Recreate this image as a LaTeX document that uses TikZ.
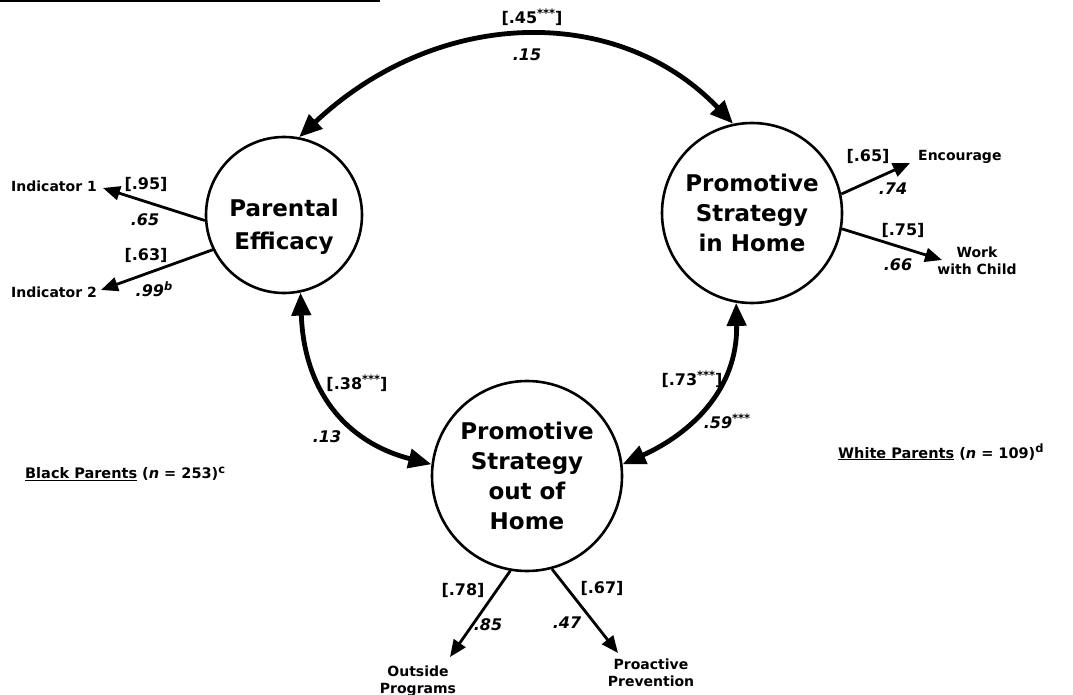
\documentclass[tikz,border=0pt]{standalone}
\usepackage{fontspec}
\setmainfont{DejaVu Sans}
\usetikzlibrary{arrows.meta}
\newcommand{\sups}[1]{\raisebox{0.38em}{\fontsize{11.5}{12}\selectfont #1}}
\begin{document}
\begin{tikzpicture}[x=1pt,y=-1pt,
  lat/.style={circle,draw,line width=2.6pt,inner sep=0pt,align=center,font=\bfseries\fontsize{23}{30}\selectfont},
  lattext/.style={inner sep=0pt,align=center,font=\bfseries\fontsize{23}{33}\selectfont},
  nm/.style={font=\bfseries\fontsize{14}{17}\selectfont,align=center,inner sep=0pt},
  cf/.style={font=\bfseries\fontsize{16}{18}\selectfont,inner sep=0pt},
  ci/.style={font=\bfseries\itshape\fontsize{16}{18}\selectfont,inner sep=0pt},
  thinarr/.style={line width=2.8pt,-{Triangle[length=17pt,width=14pt]}},
  bigarr/.style={line width=4.8pt,{Triangle[length=23pt,width=19pt]}-{Triangle[length=23pt,width=19pt]}},
  grp/.style={font=\bfseries\fontsize{14.5}{16}\selectfont,inner sep=0pt,anchor=west}]
\useasboundingbox (0,0) rectangle (1073,695);
\fill[white] (0,0) rectangle (1073,695);
\draw[line width=2.5pt] (0,1) -- (380,1);

% latent variables
\node[lat,minimum size=156pt] (pe) at (284,215) {};
\node[lattext] (pet) at (284,227) {Parental\\Efficacy};
\node[lat,minimum size=180pt] (ih) at (752,213) {Promotive\\Strategy\\in Home};
\node[lat,minimum size=190pt] (oh) at (527,476) {Promotive\\Strategy\\out of\\Home};

% indicators
\node[nm,anchor=east] (i1) at (97,186) {Indicator 1};
\node[nm,anchor=east] (i2) at (97,292) {Indicator 2};
\node[nm,anchor=west] (enc) at (918,157) {Encourage};
\node[nm] (wc) at (977,261) {Work\\with Child};
\node[nm] (op) at (418,681) {Outside\\Programs};
\node[nm] (pp) at (651,673) {Proactive\\Prevention};

% correlations
\draw[bigarr] (pe.79) .. controls (440,5) and (620,5) .. (ih.102);
\draw[bigarr] (pe.-78) .. controls (304,390) and (345,442) .. (oh.173);
\draw[bigarr] (ih.-100) .. controls (738,390) and (690,434) .. (oh.7);

% loadings
\draw[thinarr] (pe.184) -- ([xshift=6pt,yshift=-2pt]i1.east);
\draw[thinarr] (pe.206) -- ([xshift=4pt,yshift=2pt]i2.east);
\draw[thinarr] (ih.12) -- ([xshift=-8pt,yshift=-6pt]enc.west);
\draw[thinarr] (ih.-10) -- ([xshift=-35pt,yshift=1pt]wc.center);
\draw[thinarr] (oh.-100) -- ([xshift=32pt,yshift=24pt]op.center);
\draw[thinarr] (oh.-75) -- ([xshift=-33pt,yshift=20pt]pp.center);

% coefficient labels
\node[cf] (l45) at (532,17) {[.45\sups{***}]};
\node[ci] (l15) at (527,55) {.15};
\node[cf] (l95) at (146,184) {[.95]};
\node[ci] (l65) at (145,220) {.65};
\node[cf] (l63) at (146,255) {[.63]};
\node[ci] (l99) at (154,289) {.99\sups{\itshape b}};
\node[cf] (r65) at (868,156) {[.65]};
\node[ci] (r74) at (893,189) {.74};
\node[cf] (r75) at (903,230) {[.75]};
\node[ci] (r66) at (898,265) {.66};
\node[cf] (m38) at (357,383) {[.38\sups{***}]};
\node[ci] (m13) at (327,437) {.13};
\node[cf] (m73) at (692,379) {[.73\sups{***}]};
\node[ci] (m59) at (727,421) {.59\sups{***}};
\node[cf] (b78) at (463,590) {[.78]};
\node[ci] (b85) at (488,625) {.85};
\node[cf] (b67) at (602,588) {[.67]};
\node[ci] (b47) at (567,623) {.47};

% group labels
\node[grp] (bp) at (25,474) {\underline{Black Parents} (\textit{n} = 253)\sups{c}};
\node[grp] (wp) at (838,452) {\underline{White Parents} (\textit{n} = 109)\sups{d}};
\end{tikzpicture}
\end{document}
